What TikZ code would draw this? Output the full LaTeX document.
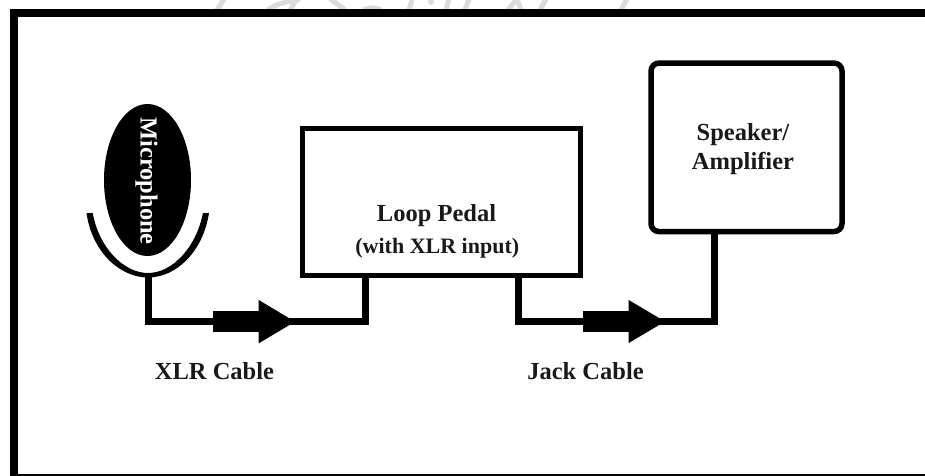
\documentclass[tikz,border=0pt]{standalone}
\usepackage{fontspec}
\setmainfont{Liberation Serif}
\usetikzlibrary{shapes.geometric}
\tikzset{
  x=1pt,y=-1pt,
  boxa/.style={draw=black,line width=5pt,fill=white,inner sep=0pt,outer sep=0pt},
  wire/.style={draw=black,line width=7pt,line join=miter},
  plug/.style={fill=black,draw=none},
  lab/.style={font=\fontsize{24.5}{29}\selectfont\bfseries,anchor=base,inner sep=0pt,text=black!90},
  sublab/.style={font=\fontsize{22}{26}\selectfont\bfseries,anchor=base,inner sep=0pt,text=black!90},
  mark stroke/.style={draw=black!14,line width=5pt},
}
\begin{document}
\begin{tikzpicture}
\useasboundingbox (0,0) rectangle (925,475);
\clip (0,0) rectangle (925,475);
% faint remains of a watermark above the frame
\draw[mark stroke] (224,-1) -- (217,10);
\draw[mark stroke] (268,10) .. controls (278,2) and (290,2) .. (300,-1);
\draw[mark stroke] (290,10) -- (297,-1);
\draw[mark stroke] (330,-1) .. controls (336,3) and (340,6) .. (345,10);
\draw[mark stroke] (364,10) .. controls (368,7) and (376,7) .. (381,10);
\draw[mark stroke] (409,10) -- (412,0);
\draw[mark stroke] (449,-1) -- (446,10);
\draw[mark stroke] (469,-1) -- (465,10);
\draw[mark stroke] (517,-1) -- (508,10);
\draw[mark stroke] (517,-1) -- (521,10);
\draw[mark stroke] (546,-1) -- (540,10);
\draw[mark stroke] (627,-1) -- (621,10);
\fill[black!14] (431,2) circle (3pt);
\draw[black,line width=8pt] (13.5,13) rectangle (960,477.5);
\node[boxa,minimum width=277.8pt,minimum height=147pt] (pedal) at (441.4,202) {};
\node[boxa,line width=5.5pt,rounded corners=8pt,minimum width=191pt,minimum height=168.5pt] (speaker) at (746.5,147.3) {};
\node[ellipse,fill=black,inner sep=0pt,outer sep=0pt,minimum width=87pt,minimum height=152pt] (mic) at (147.5,180) {};
\node[rotate=-90,text=white,font=\fontsize{24.5}{29}\selectfont\bfseries,inner sep=0pt] (miclabel) at (146.5,181) {Microphone};
\fill[black] (86.5,213) .. controls (92,252) and (120,277.5) .. (148,277.5)
  .. controls (176,277.5) and (203,252) .. (209,213) -- (203,213)
  .. controls (196,248) and (172,273) .. (148,273)
  .. controls (124,273) and (99,248) .. (92.7,213) -- cycle;
\coordinate (cradle) at (148.7,275);
\coordinate (xa) at (148.7,321.7);
\coordinate (xb) at (365.3,321.7);
\coordinate (ja) at (518,321.5);
\coordinate (jb) at (714,321.5);
\draw[wire] (cradle) -- (xa) -- (xb) -- (xb |- pedal.south);
\draw[wire] (ja |- pedal.south) -- (ja) -- (jb) -- (jb |- speaker.south);
\fill[plug] (212.7,311) rectangle (258.7,332);
\fill[plug] (258.7,300) -- (295,321.7) -- (258.7,343.3) -- cycle;
\fill[plug] (582.7,311) rectangle (628.7,332.3);
\fill[plug] (628.7,300) -- (665,321.5) -- (628.7,343) -- cycle;
\node[lab] (pedaltext) at (436.5,221) {Loop Pedal};
\node[sublab] (pedalsub) at (437.3,253.5) {(with XLR input)};
\node[lab] (sp1) at (743,140) {Speaker/};
\node[lab] (sp2) at (743,169.3) {Amplifier};
\node[lab] (xlr) at (214.5,379) {XLR Cable};
\node[lab] (jack) at (585.5,379) {Jack Cable};
\end{tikzpicture}
\end{document}
